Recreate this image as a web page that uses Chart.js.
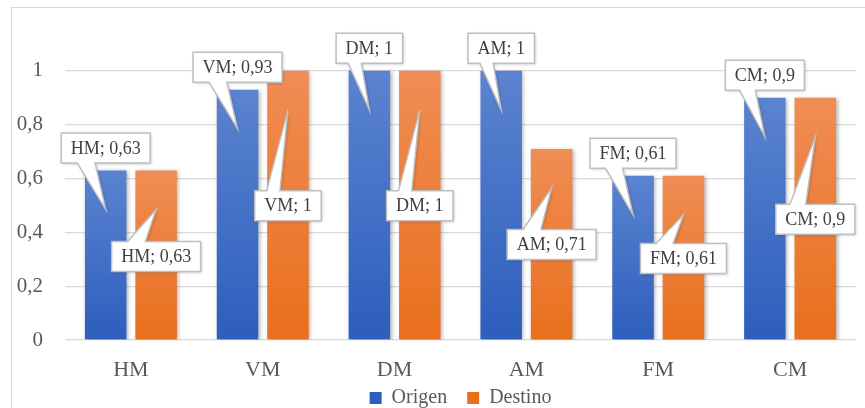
<!DOCTYPE html>
<html>
<head>
<meta charset="utf-8">
<script src="https://cdn.jsdelivr.net/npm/chart.js@4.4.1/dist/chart.umd.min.js"></script>
<style>
  html, body { margin: 0; padding: 0; background: #fff; }
  #wrap { position: relative; width: 865px; height: 408px; }
</style>
</head>
<body>
<div id="wrap"><canvas id="chart"></canvas></div>
<script>
const categories = ['HM', 'VM', 'DM', 'AM', 'FM', 'CM'];
const origen = [0.63, 0.93, 1, 1, 0.61, 0.9];
const destino = [0.63, 1, 1, 0.71, 0.61, 0.9];
const yTicks = [0, 0.2, 0.4, 0.6, 0.8, 1];
// where the Destino callouts were dragged to (axis units)
const destinoLabelAt = [0.31, 0.499, 0.499, 0.355, 0.303, 0.449];

const serif = "'Liberation Serif', 'Times New Roman', serif";
const fmt = v => String(Math.round(v * 100) / 100).replace('.', ',');

// vertical gradient per bar, light at the top
function barFill(top, bottom) {
  return (ctx) => {
    const chart = ctx.chart;
    const area = chart.chartArea;
    if (!area || ctx.type !== 'data') return bottom;
    const yTop = chart.scales.y.getPixelForValue(ctx.raw);
    const g = chart.ctx.createLinearGradient(0, yTop, 0, area.bottom);
    g.addColorStop(0, top);
    g.addColorStop(1, bottom);
    return g;
  };
}

const frame = {
  id: 'frame',
  // let the category labels reach into the legend band (scale labels are clipped to the scale box)
  afterLayout(chart) {
    chart.scales.x.bottom = chart.height;
  },
  beforeDraw(chart) {
    const c = chart.ctx;
    c.save();
    c.strokeStyle = '#d9d9d9';
    c.lineWidth = 1;
    c.strokeRect(11.5, 7.5, 900, 450);
    c.restore();
  }
};

const barShadow = {
  id: 'barShadow',
  beforeDatasetsDraw(chart) {
    const c = chart.ctx;
    c.save();
    c.shadowColor = 'rgba(0,0,0,0.3)';
    c.shadowBlur = 4;
    c.shadowOffsetX = 1.5;
    c.shadowOffsetY = 1;
  },
  afterDatasetsDraw(chart) {
    chart.ctx.restore();
  }
};

// Excel style callout labels
const callouts = {
  id: 'callouts',
  afterDraw(chart) {
    const c = chart.ctx;
    const y = chart.scales.y;
    c.save();
    c.font = '18px ' + serif;
    c.textAlign = 'center';
    c.textBaseline = 'middle';
    chart.data.datasets.forEach((ds, di) => {
      chart.getDatasetMeta(di).data.forEach((bar, i) => {
        const text = categories[i] + '; ' + fmt(ds.data[i]);
        const w = c.measureText(text).width + 19;
        const h = 30;
        const tipX = bar.x, tipY = bar.y + 39;
        const cx = bar.x;
        const cy = di === 0 ? bar.y - 7.5 - h / 2 : y.getPixelForValue(destinoLabelAt[i]);
        const l = cx - w / 2, t = cy - h / 2, r = l + w, b = t + h;
        const b1 = l + w * 0.18, b2 = l + w * 0.38;
        c.beginPath();
        if (tipY > b) {
          c.moveTo(l, t); c.lineTo(r, t); c.lineTo(r, b);
          c.lineTo(b2, b); c.lineTo(tipX, tipY); c.lineTo(b1, b);
          c.lineTo(l, b);
        } else {
          c.moveTo(l, t); c.lineTo(b1, t); c.lineTo(tipX, tipY);
          c.lineTo(b2, t); c.lineTo(r, t); c.lineTo(r, b);
          c.lineTo(l, b);
        }
        c.closePath();
        c.save();
        c.shadowColor = 'rgba(0,0,0,0.25)';
        c.shadowBlur = 3;
        c.shadowOffsetX = 1;
        c.shadowOffsetY = 1;
        c.fillStyle = '#fff';
        c.fill();
        c.restore();
        c.strokeStyle = '#bfbfbf';
        c.lineWidth = 1.5;
        c.stroke();
        c.fillStyle = '#404040';
        c.fillText(text, cx, cy + 1);
      });
    });
    c.restore();
  }
};

const chart = new Chart(document.getElementById('chart'), {
  type: 'bar',
  data: {
    labels: categories,
    datasets: [{
      label: 'Origen',
      data: origen,
      backgroundColor: barFill('#5b84d0', '#2d5ebd'),
      borderWidth: 0,
      categoryPercentage: 0.765,
      barPercentage: 0.823
    }, {
      label: 'Destino',
      data: destino,
      backgroundColor: barFill('#f08d55', '#e96f1c'),
      borderWidth: 0,
      categoryPercentage: 0.765,
      barPercentage: 0.823
    }]
  },
  options: {
    responsive: true,
    maintainAspectRatio: false,
    animation: false,
    layout: { padding: { top: 17, right: 9, left: 0, bottom: 0 } },
    plugins: {
      legend: {
        position: 'bottom',
        fullSize: false,
        maxHeight: 40,
        labels: {
          font: { family: serif, size: 20 },
          color: '#595959',
          boxWidth: 12,
          boxHeight: 12,
          padding: 20
        }
      },
      tooltip: { enabled: false }
    },
    scales: {
      x: {
        grid: { display: false, drawTicks: false },
        border: { display: false },
        ticks: { font: { family: serif, size: 22 }, color: '#595959', padding: 17 },
        afterFit(s) { s.height = 28; }
      },
      y: {
        min: 0,
        max: 1.2,
        afterBuildTicks(s) { s.ticks = yTicks.map(v => ({ value: v })); },
        ticks: { callback: v => fmt(v), font: { family: serif, size: 21 }, color: '#595959', padding: 22 },
        grid: { color: '#d9d9d9', lineWidth: 1.3, drawTicks: false },
        border: { display: false },
        afterFit(s) {
          s.width = 65;
          s.paddingTop = 0;
          s.paddingBottom = 0;
        }
      }
    }
  },
  plugins: [frame, barShadow, callouts]
});
</script>
</body>
</html>
